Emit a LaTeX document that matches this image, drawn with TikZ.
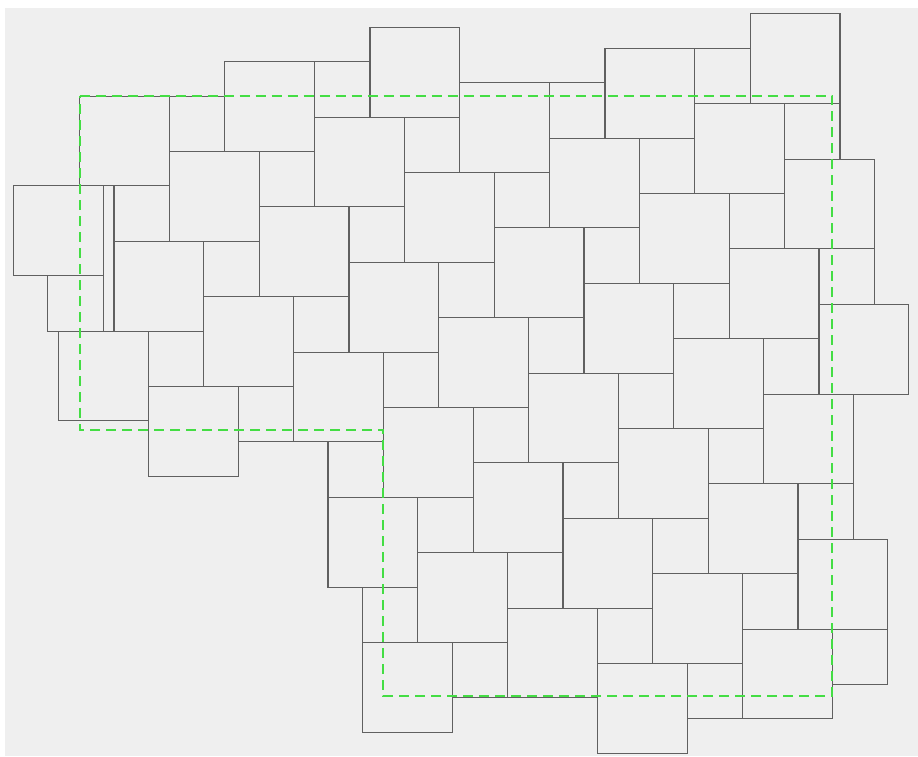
\documentclass[tikz,border=0pt]{standalone}
\definecolor{bgc}{HTML}{EFEFEF}
\definecolor{edgec}{HTML}{606060}
\definecolor{dashc}{HTML}{44DD44}
\tikzset{
  tile/.style={draw=edgec, line width=1.1pt},
  outline/.style={draw=dashc, line width=2pt, dash pattern=on 10pt off 6pt},
}
\begin{document}
\begin{tikzpicture}[x=1pt,y=-1pt]
\useasboundingbox (0,0) rectangle (918,756);
\fill[white] (0,0) rectangle (918,756);
\fill[bgc] (5,8) rectangle (918,756);
% big squares B(i,j)
\foreach \i/\j in {3/-2, 2/-1,3/-1,4/-1,
  0/0,1/0,2/0,3/0,4/0,5/0,
  -1/1,0/1,1/1,2/1,3/1,4/1,5/1,
  -2/2,-1/2,0/2,1/2,2/2,3/2,4/2,5/2,6/2,
  -1/3,0/3,1/3,2/3,3/3,4/3,5/3,6/3,
  -1/4,0/4,2/4,3/4,4/4,5/4,
  3/5}{
  \draw[tile] ({370+89.8*(\i)-55.4*(\j)},{27.3+55.4*(\i)+89.8*(\j)}) rectangle ++(89.8,89.8);
}
% small squares S(i,j)
\foreach \i/\j in {3/-2,4/-2,
  2/-1,3/-1,4/-1,5/-1,
  0/0,1/0,2/0,3/0,4/0,5/0,
  -1/1,0/1,1/1,2/1,3/1,4/1,5/1,6/1,
  -1/2,0/2,1/2,2/2,3/2,4/2,5/2,6/2,7/2,
  0/3,1/3,2/3,3/3,4/3,5/3,6/3,
  3/4,4/4}{
  \draw[tile] ({314.6+89.8*(\i)-55.4*(\j)},{61.7+55.4*(\i)+89.8*(\j)}) rectangle ++(55.4,55.4);
}
% shifted pair at the left
\draw[tile] (13.4,185.9) rectangle ++(89.8,89.8);
\draw[tile] (47.8,275.7) rectangle ++(55.4,55.4);
% dashed L-shaped outline
\draw[outline] (79.5,95.7) -- (832.2,95.7) -- (832.2,696) -- (383.3,696)
  -- (383.3,429.5) -- (79.5,429.5) -- cycle;
\end{tikzpicture}
\end{document}
